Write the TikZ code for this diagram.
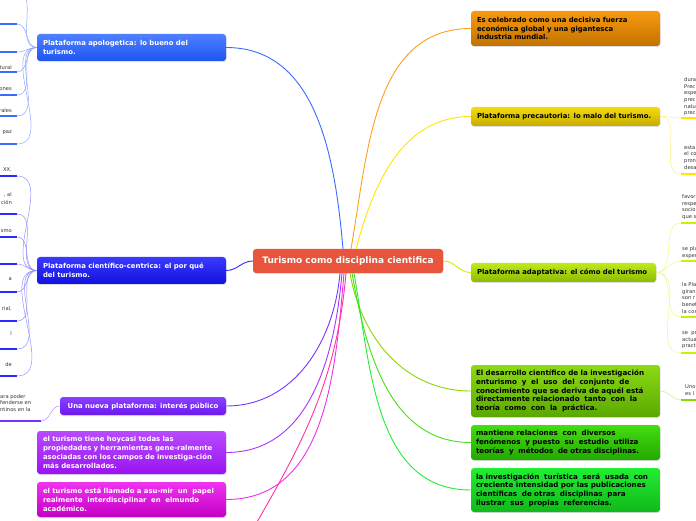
\documentclass[tikz,border=0pt]{standalone}
\usepackage{fontspec}
\setmainfont{DejaVu Sans}
\usetikzlibrary{shadows}

\tikzset{
  topic/.style={rounded corners=3pt, inner xsep=6pt, inner ysep=2pt, align=left,
    font=\fontsize{6.9}{8.8}\selectfont\bfseries,
    drop shadow={opacity=0.25, shadow xshift=0.5pt, shadow yshift=-1pt}},
  bigtopic/.style={topic, inner xsep=5pt, font=\fontsize{7.15}{8.6}\selectfont\bfseries},
  branch/.style={line width=0.9pt},
  twig/.style={line width=0.5pt},
  leaf/.style={line width=2.4pt},
  leaftext/.style={inner sep=0pt, align=left, font=\fontsize{5.2}{6.6}\selectfont, text=leafGrey},
}

\begin{document}
\begin{tikzpicture}[x=1pt, y=1pt]
    \definecolor{leafGrey}{HTML}{333333}
    \definecolor{mainRed}{HTML}{E8543C}
    \definecolor{apolTop}{HTML}{4F80FF}   \definecolor{apolBot}{HTML}{1E55F0}
    \definecolor{apolLine}{HTML}{3A6BFF}  \definecolor{apolLight}{HTML}{8FA8FF}
    \definecolor{ciencTop}{HTML}{3A3AFF}  \definecolor{ciencBot}{HTML}{1111DD}
    \definecolor{ciencLine}{HTML}{2B2BFF} \definecolor{ciencLight}{HTML}{9090FF}
    \definecolor{interTop}{HTML}{8A40FF}  \definecolor{interBot}{HTML}{6A1AEE}
    \definecolor{interLine}{HTML}{7A33FF} \definecolor{interLight}{HTML}{B090FF}
    \definecolor{propTop}{HTML}{B84AFF}   \definecolor{propBot}{HTML}{9A14F0}
    \definecolor{propLine}{HTML}{AA33FF}
    \definecolor{llamTop}{HTML}{F033F0}   \definecolor{llamBot}{HTML}{C400C4}
    \definecolor{llamLine}{HTML}{EE30EE}
    \definecolor{pinkLine}{HTML}{FF3399}
    \definecolor{celebTop}{HTML}{F89A10}  \definecolor{celebBot}{HTML}{C27200}
    \definecolor{celebLine}{HTML}{FF9E1A}
    \definecolor{precTop}{HTML}{F4DC10}   \definecolor{precBot}{HTML}{C6AC00}
    \definecolor{precLine}{HTML}{FFE600}  \definecolor{precLight}{HTML}{FFEE77}
    \definecolor{adaptTop}{HTML}{BDEB1A}  \definecolor{adaptBot}{HTML}{8EBA00}
    \definecolor{adaptLine}{HTML}{CCF000} \definecolor{adaptLight}{HTML}{E0FF80}
    \definecolor{desTop}{HTML}{8CDB14}    \definecolor{desBot}{HTML}{5AA800}
    \definecolor{desLine}{HTML}{8CD600}   \definecolor{desLight}{HTML}{C0EE80}
    \definecolor{manTop}{HTML}{44DD11}    \definecolor{manBot}{HTML}{22A800}
    \definecolor{manLine}{HTML}{44E010}
    \definecolor{invTop}{HTML}{22EE33}    \definecolor{invBot}{HTML}{11B81A}
    \definecolor{invLine}{HTML}{22EE33}

    \useasboundingbox (0,0) rectangle (696,520);
    \clip (0,0) rectangle (696,520);

    % Central topic
    \node[topic, fill=mainRed, text=white, align=center, minimum width=190pt, minimum height=24pt,
      font=\fontsize{9}{10}\selectfont\bfseries] (main) at (348,259) {Turismo como disciplina cientifica};

    % Left topics
    \node[topic, top color=apolTop, bottom color=apolBot, text=white, text width=177pt, minimum height=27pt]
      (apol) at (131.5,472.5) {Plataforma apologetica: lo bueno del\\turismo.};
    \node[topic, top color=ciencTop, bottom color=ciencBot, text=white, text width=177pt, minimum height=27pt]
      (cienc) at (131.5,249.5) {Plataforma científico-centrica: el por qué\\del turismo.};
    \node[topic, top color=interTop, bottom color=interBot, text=white, align=center, minimum width=166pt, minimum height=18pt]
      (inter) at (143,114) {Una nueva plataforma: interés público};
    \node[topic, top color=propTop, bottom color=propBot, text=white, text width=177pt, minimum height=43pt]
      (prop) at (131.5,67.5) {el turismo tiene hoycasi todas las\\propiedades y herramientas gene-ralmente\\asociadas con los campos de investiga-ción\\más desarrollados.};
    \node[topic, top color=llamTop, bottom color=llamBot, text=white, text width=177pt, minimum height=35pt]
      (llam) at (131.5,20.5) {el turismo está llamado a asu-mir~ un~ papel\\realmente~ interdisciplinar~ en~ elmundo\\académico.};

    % Right topics
    \node[topic, top color=celebTop, bottom color=celebBot, text width=177pt, minimum height=35pt]
      (celeb) at (565.5,491.5) {Es celebrado como una decisiva fuerza\\económica global y una gigantesca\\industria mundial.};
    \node[topic, top color=precTop, bottom color=precBot, text width=177pt, minimum height=19pt]
      (prec) at (565.5,403.5) {Plataforma precautoria: lo malo del turismo.};
    \node[topic, top color=adaptTop, bottom color=adaptBot, text width=173pt, minimum height=19pt]
      (adapt) at (563.5,247.5) {Plataforma adaptativa: el cómo del turismo};
    \node[bigtopic, top color=desTop, bottom color=desBot, text width=179pt, minimum height=52pt]
      (des) at (565.5,129) {El desarrollo científico de la investigación\\enturismo~ y~ el~ uso~ del~ conjunto~ de\\conocimiento que se deriva de aquél está\\directamente relacionado~ tanto~ con~ la\\teoría~ como~ con~ la~ práctica.};
    \node[bigtopic, top color=manTop, bottom color=manBot, text width=179pt, minimum height=35pt]
      (man) at (565.5,77.5) {mantiene relaciones~ con~ diversos\\fenómenos~ y puesto~ su~ estudio~ utiliza\\teorías~ y~ métodos~ de otras disciplinas.};
    \node[bigtopic, top color=invTop, bottom color=invBot, text width=179pt, minimum height=44pt]
      (inv) at (565.5,30) {la investigación~ turística~ será~ usada~ con\\creciente intensidad por las publicaciones\\científicas~ de otras~ disciplinas~ para\\ilustrar~ sus~ propias~ referencias.};

    % Branches from the centre
    \coordinate (hidden) at (235,-40);
    \draw[branch, apolLine] ([xshift=-5pt]main.north) to[out=95,in=0] (apol.east);
    \draw[branch, celebLine] ([xshift=3pt]main.north) to[out=80,in=180] (celeb.west);
    \draw[branch, precLine] ([xshift=8pt]main.north) to[out=75,in=180] (prec.west);
    \draw[branch, ciencLine] (main.west) to[out=180,in=0] (cienc.east);
    \draw[branch, adaptLine] (main.east) to[out=0,in=180] (adapt.west);
    \draw[branch, interLine] ([xshift=-8pt]main.south) to[out=265,in=0] (inter.east);
    \draw[branch, propLine] ([xshift=-6pt]main.south) to[out=265,in=0] (prop.east);
    \draw[branch, llamLine] ([xshift=-4pt]main.south) to[out=265,in=0] (llam.east);
    \draw[branch, pinkLine] ([xshift=-2pt]main.south) to[out=265,in=60] (hidden);
    \draw[branch, desLine] ([xshift=2pt]main.south) to[out=280,in=180] (des.west);
    \draw[branch, manLine] ([xshift=4pt]main.south) to[out=280,in=180] (man.west);
    \draw[branch, invLine] ([xshift=6pt]main.south) to[out=280,in=180] (inv.west);

    % Left twigs
    \foreach \y [count=\i] in {528,496,468,448,425,404,376} {
        \coordinate (apolTip\i) at (17,\y);
        \coordinate (apolEnd\i) at (0,\y);
        \draw[twig, apolLight] (apol.west) to[out=180,in=0] (apolTip\i);
        \draw[leaf, apolLine] (apolTip\i) -- (apolEnd\i);
    }
    \foreach \y [count=\i] in {344,306,283,256,228,199,171,144} {
        \coordinate (ciencTip\i) at (17,\y);
        \coordinate (ciencEnd\i) at (0,\y);
        \draw[twig, ciencLight] (cienc.west) to[out=180,in=0] (ciencTip\i);
        \draw[leaf, ciencLine] (ciencTip\i) -- (ciencEnd\i);
    }
    \coordinate (interTip) at (41,99);
    \coordinate (interEnd) at (0,99);
    \draw[twig, interLight] (inter.west) to[out=180,in=0] (interTip);
    \draw[leaf, interLine] (interTip) -- (interEnd);

    % Left twig texts
    \foreach \y/\t [count=\i] in {450.5/tural, 429.5/ones, 407.5/rales, 386.5/paz} {
        \node[leaftext, anchor=base east] (apolTxt\i) at (12,\y) {\t};
    }
    \foreach \y/\t [count=\i] in {348.5/XX., 323.5/{, al}, 315.5/ción, 287.5/smo, 239.5/a, 209.5/{rial,}, 184.5/l, 153.5/de} {
        \node[leaftext, anchor=base east] (ciencTxt\i) at (12,\y) {\t};
    }
    \node[leaftext, anchor=north west] (interTxt) at (0,126) {ara poder\\fenderse en\\ntinos en la};

    % Right twigs
    \foreach \y [count=\i] in {402,346} {
        \coordinate (precTip\i) at (681,\y);
        \coordinate (precEnd\i) at (700,\y);
        \draw[twig, precLight] (prec.east) to[out=0,in=180] (precTip\i);
        \draw[leaf, precLine] (precTip\i) -- (precEnd\i);
    }
    \foreach \y [count=\i] in {297,259,203,167} {
        \coordinate (adaptTip\i) at (681,\y);
        \coordinate (adaptEnd\i) at (700,\y);
        \draw[twig, adaptLight] (adapt.east) to[out=0,in=180] (adaptTip\i);
        \draw[leaf, adaptLine] (adaptTip\i) -- (adaptEnd\i);
    }
    \coordinate (desTip) at (681,120);
    \coordinate (desEnd) at (700,120);
    \draw[twig, desLight] (des.east) to[out=0,in=180] (desTip);
    \draw[leaf, desLine] (desTip) -- (desEnd);

    % Right twig texts
    \node[leaftext, anchor=north west] (precTxt1) at (684,442.5) {dura\\Prec\\espe\\prec\\natu\\prec};
    \node[leaftext, anchor=north west] (precTxt2) at (684,374.5) {esta\\el co\\pron\\desa};
    \node[leaftext, anchor=north west] (adaptTxt1) at (682,325.5) {favor\\respe\\socio\\que s};
    \node[leaftext, anchor=north west] (adaptTxt2) at (682,273.5) {se pla\\exper};
    \node[leaftext, anchor=north west] (adaptTxt3) at (682,237.5) {la Pla\\giran\\son r\\benef\\la cor};
    \node[leaftext, anchor=north west] (adaptTxt4) at (682,188.5) {se~ pr\\actua\\practi};
    \node[leaftext, anchor=north west] (desTxt) at (685,135.5) {Uno\\es l};

\end{tikzpicture}
\end{document}
